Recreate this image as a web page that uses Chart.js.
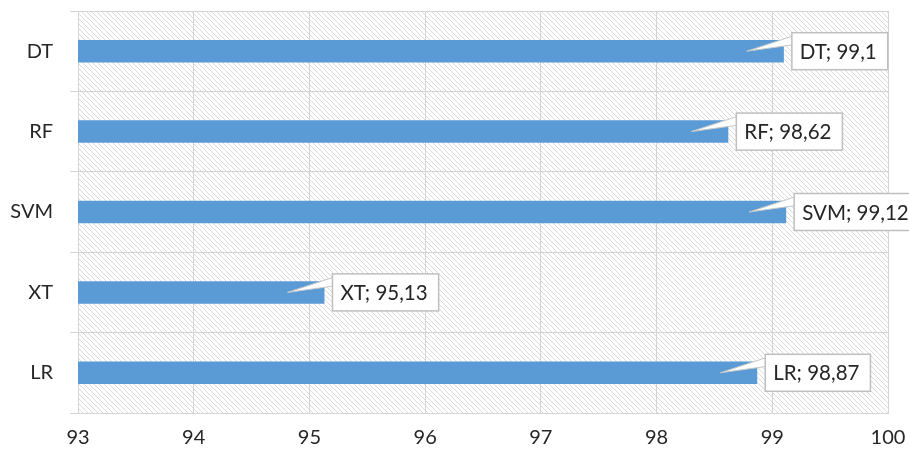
<!DOCTYPE html>
<html>
<head>
<meta charset="utf-8">
<script src="https://cdn.jsdelivr.net/npm/chart.js@4/dist/chart.umd.min.js"></script>
<style>
  body { margin: 0; background: #fff; }
  canvas { display: block; }
</style>
</head>
<body>
<canvas id="chart" width="909" height="454"></canvas>
<script>
const categories = ['DT', 'RF', 'SVM', 'XT', 'LR'];
const values = [99.1, 98.62, 99.12, 95.13, 98.87];
const xMin = 93;
const xMax = 100;

const fontFamily = 'Lato, "Liberation Sans", sans-serif';
const gridColor = '#d4d4d4';

// diagonal hatch for the plot area
function makeHatch() {
  const c = document.createElement('canvas');
  c.width = 5;
  c.height = 5;
  const g = c.getContext('2d');
  g.fillStyle = '#fff';
  g.fillRect(0, 0, 5, 5);
  g.strokeStyle = '#dadada';
  g.lineWidth = 1;
  g.beginPath();
  g.moveTo(-1, -1); g.lineTo(6, 6);
  g.moveTo(-1, 4); g.lineTo(1, 6);
  g.moveTo(4, -1); g.lineTo(6, 1);
  g.stroke();
  return g.createPattern(c, 'repeat');
}

const hatchBg = {
  id: 'hatchBg',
  beforeDraw(chart) {
    const { ctx, chartArea: a } = chart;
    ctx.save();
    ctx.fillStyle = makeHatch();
    ctx.fillRect(a.left, a.top, a.right - a.left, a.bottom - a.top);
    ctx.restore();
  }
};

// excel style callout labels
const callouts = {
  id: 'callouts',
  afterDatasetsDraw(chart) {
    const ctx = chart.ctx;
    const meta = chart.getDatasetMeta(0);
    ctx.save();
    ctx.font = '20.5px ' + fontFamily;
    ctx.textBaseline = 'middle';
    meta.data.forEach(function (bar, i) {
      const text = categories[i] + '; ' + String(values[i]).replace('.', ',');
      const w = ctx.measureText(text).width + 19;
      const h = 37;
      const bx = bar.x + 8;
      const by = bar.y - h / 2;

      ctx.beginPath();
      ctx.moveTo(bx + 2, by + 3);
      ctx.lineTo(bar.x - 37, bar.y);
      ctx.lineTo(bx + 2, by + 12);
      ctx.closePath();
      ctx.fillStyle = '#fff';
      ctx.fill();
      ctx.strokeStyle = '#c8c8c8';
      ctx.lineWidth = 1;
      ctx.stroke();

      ctx.fillStyle = '#fff';
      ctx.fillRect(bx, by, w, h);
      ctx.strokeStyle = '#bfbfbf';
      ctx.lineWidth = 1.5;
      ctx.strokeRect(bx, by, w, h);

      ctx.fillStyle = '#262626';
      ctx.textAlign = 'left';
      ctx.fillText(text, bx + 8, bar.y + 1);
    });
    ctx.restore();
  }
};

new Chart(document.getElementById('chart'), {
  type: 'bar',
  data: {
    labels: categories,
    datasets: [{
      data: values,
      backgroundColor: '#5b9bd5',
      borderWidth: 0,
      barPercentage: 0.28,
      categoryPercentage: 1
    }]
  },
  options: {
    indexAxis: 'y',
    responsive: false,
    animation: false,
    layout: { padding: { top: 11, right: 21, left: 0, bottom: 0 } },
    plugins: {
      legend: { display: false },
      tooltip: { enabled: false }
    },
    scales: {
      x: {
        min: xMin,
        max: xMax,
        ticks: {
          stepSize: 1,
          padding: 13,
          color: '#262626',
          font: { family: fontFamily, size: 20 }
        },
        grid: { color: gridColor, lineWidth: 1, drawTicks: false },
        border: { color: gridColor, width: 1 },
        afterFit(scale) {
          scale.height = 41;
          scale.paddingLeft = 0;
          scale.paddingRight = 0;
        }
      },
      y: {
        ticks: {
          padding: 17,
          color: '#262626',
          font: { family: fontFamily, size: 20 }
        },
        grid: { color: gridColor, lineWidth: 1, offset: true, tickLength: 8 },
        border: { color: gridColor, width: 1 },
        afterFit(scale) {
          scale.width = 78;
          scale.paddingTop = 0;
          scale.paddingBottom = 0;
        }
      }
    }
  },
  plugins: [hatchBg, callouts]
});
</script>
</body>
</html>
